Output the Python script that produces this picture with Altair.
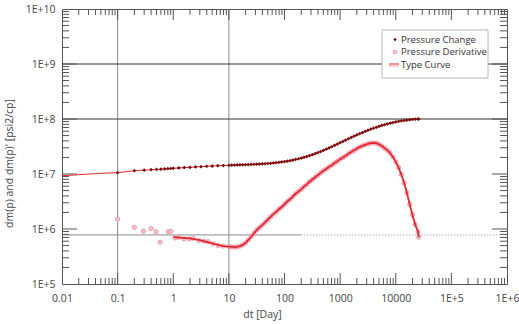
import altair as alt
import pandas as pd

# ---- data -------------------------------------------------------------
# elapsed time, days
PC_T = [0.1, 0.2, 0.3, 0.4, 0.5, 0.6, 0.7, 0.8, 0.9, 1.0, 1.26, 1.58, 2.0, 2.51, 3.16, 3.98, 5.01, 6.31, 7.94,
        10, 11.2, 12.6, 14.1, 15.8, 17.8, 20.0, 22.4, 25.1, 28.2, 31.6, 35.5, 39.8, 44.7, 50.1, 56.2, 63.1, 70.8,
        79.4, 89.1, 100, 112, 126, 141, 158, 178, 200, 224, 251, 282, 316, 355, 398, 447, 501, 562, 631, 708, 794,
        891, 1000, 1122, 1259, 1413, 1585, 1778, 1995, 2239, 2512, 2818, 3162, 3548, 3981, 4467, 5012, 5623, 6310,
        7079, 7943, 8913, 10000, 11220, 12590, 14130, 15850, 17780, 19950, 22390, 25120, 26000]
# pressure change dm(p), millions of psi2/cp
PC_V = [10.57, 11.48, 11.75, 11.97, 12.11, 12.25, 12.36, 12.47, 12.59, 12.71, 12.88, 13.06, 13.24, 13.43, 13.61,
        13.80, 13.96, 14.13, 14.26,
        14.39, 14.45, 14.52, 14.59, 14.66, 14.72, 14.79, 14.86, 14.93, 15.00, 15.07, 15.17, 15.28, 15.38, 15.52,
        15.67, 15.85, 16.07, 16.29, 16.56, 16.83, 17.14, 17.50, 17.91, 18.37, 18.88, 19.45, 20.09, 20.80, 21.58,
        22.44, 23.39, 24.43, 25.59, 26.85, 28.25, 29.79, 31.41, 33.19, 35.08, 37.07, 39.17, 41.40, 43.75, 46.24,
        48.75, 51.40, 54.08, 56.75, 59.57, 62.37, 65.16, 67.92, 70.63, 73.45, 76.21, 78.89, 81.47, 83.95, 86.30,
        88.51, 90.57, 92.47, 94.19, 95.72, 97.05, 98.17, 99.08, 99.77, 100.0]

# pressure derivative dm(p)', millions of psi2/cp
PD_T = [0.1, 0.2, 0.29, 0.4, 0.49, 0.58, 0.81, 0.91, 1.08, 1.27, 1.56, 1.92, 2.27, 2.91, 3.58, 4.23, 5.2, 6.4, 7.9,
        10, 11.2, 12.6, 14.1, 15.8, 17.8, 20.0, 22.4, 25.1, 28.2, 31.6, 35.5, 39.8, 44.7, 50.1, 56.2, 63.1, 70.8,
        79.4, 89.1, 100, 112, 126, 141, 158, 178, 200, 224, 251, 282, 316, 355, 398, 447, 501, 562, 631, 708, 794,
        891, 1000, 1122, 1259, 1413, 1585, 1778, 1995, 2239, 2512, 2818, 3162, 3548, 3981, 4467, 5012, 5623, 6310,
        7079, 7943, 8913, 10000, 11220, 12590, 14130, 15850, 17780, 19950, 22390, 25120, 26000]
PD_V = [1.51, 1.07, 0.912, 1.02, 0.891, 0.575, 0.891, 0.912, 0.686, 0.703, 0.661, 0.661, 0.676, 0.617, 0.603,
        0.589, 0.537, 0.501, 0.490,
        0.479, 0.473, 0.468, 0.473, 0.490, 0.513, 0.562, 0.631, 0.724, 0.832, 0.955, 1.072, 1.175, 1.318, 1.479,
        1.660, 1.862, 2.042, 2.291, 2.512, 2.818, 3.162, 3.467, 3.890, 4.365, 4.786, 5.248, 5.888, 6.457, 7.244,
        7.943, 8.710, 9.550, 10.47, 11.48, 12.30, 13.49, 14.45, 15.85, 16.98, 18.62, 19.95, 21.38, 23.44, 25.12,
        26.92, 28.84, 30.90, 32.36, 33.88, 35.48, 36.31, 36.73, 36.31, 34.67, 32.36, 29.51, 26.92, 23.99, 20.42,
        16.60, 13.18, 9.772, 6.918, 4.571, 2.818, 1.820, 1.202, 0.891, 0.708]

# model (type curve) sections ahead of the measured data
TCP_T_EARLY = [0.01, 0.02, 0.03, 0.05, 0.07]
TCP_V_EARLY = [9.31, 9.70, 9.95, 10.26, 10.47]
TCD_T_EARLY = [1.0, 1.5, 2.0, 3.0, 5.0, 7.9]
TCD_V_EARLY = [0.710, 0.690, 0.676, 0.630, 0.550, 0.490]

N_GRID = 70  # shared time grid from 10 days onward

VERTICAL_MARKERS = [0.1, 10]
HORIZONTAL_MARKERS = [1e8, 1e9]
LOWER_LEVEL = 7.8e5

X_DECADES = [0.01, 0.1, 1, 10, 100, 1000, 10000, 1e5, 1e6]
X_LABELS = ["0.01", "0.1", "1", "10", "100", "1000", "10000", "1E+5", "1E+6"]
Y_DECADES = [1e5, 1e6, 1e7, 1e8, 1e9, 1e10]
Y_LABELS = ["1E+5", "1E+6", "1E+7", "1E+8", "1E+9", "1E+10"]
MINOR_STEPS = [2, 3, 4, 5, 6, 7, 8, 9]

LEGEND_LABELS = ["Pressure Change", "Pressure Derivative", "Type Curve"]

# ---- tables -----------------------------------------------------------
MM = 1e6
pc = pd.DataFrame({"t": PC_T, "v": [v * MM for v in PC_V]})
pdv = pd.DataFrame({"t": PD_T, "v": [v * MM for v in PD_V]})
tc_p = pd.DataFrame({"t": TCP_T_EARLY + PC_T,
                     "v": [v * MM for v in TCP_V_EARLY + PC_V]})
tc_d = pd.DataFrame({"t": TCD_T_EARLY + PD_T[-N_GRID:],
                     "v": [v * MM for v in TCD_V_EARLY + PD_V[-N_GRID:]]})

x_major = pd.DataFrame({"t": X_DECADES[1:-1]})
x_minor = pd.DataFrame({"t": [m * d for d in X_DECADES[:-1] for m in MINOR_STEPS]})
y_major = pd.DataFrame({"v": Y_DECADES[1:-1]})
y_minor = pd.DataFrame({"v": [m * d for d in Y_DECADES[:-1] for m in MINOR_STEPS]})
one = pd.DataFrame({"k": [0]})

# ---- layout -----------------------------------------------------------
W, H = 445, 275
FONT = "Open Sans"
INK = "#444444"
FRAME = "#555555"

XS = alt.Scale(type="log", domain=[0.01, 1e6], nice=False)
YS = alt.Scale(type="log", domain=[1e5, 1e10], nice=False)

x_labels_js = "[" + ",".join("'%s'" % s for s in X_LABELS) + "]"
y_labels_js = "[" + ",".join("'%s'" % s for s in Y_LABELS) + "]"

X_AXIS = alt.Axis(
    values=X_DECADES, labelExpr=f"{x_labels_js}[round(log(datum.value)/LN10)+2]",
    title="dt [Day]", grid=False, domain=False, ticks=False, tickSize=0,
    labelFlush=False, labelOverlap=False, labelPadding=9,
    labelFont=FONT, labelFontSize=10.5, labelColor=INK,
    titleFont=FONT, titleFontSize=10.5, titleFontWeight="normal", titleColor=INK,
    titleX=200, titleY=30, titleBaseline="middle", titleAlign="center",
)
Y_AXIS = alt.Axis(
    values=Y_DECADES, labelExpr=f"{y_labels_js}[round(log(datum.value)/LN10)-5]",
    title="dm(p) and dm(p)' [psi2/cp]", grid=False, domain=False, ticks=False, tickSize=0,
    labelFlush=False, labelOverlap=False, labelPadding=7,
    labelFont=FONT, labelFontSize=10.5, labelColor=INK, labelBaseline="middle",
    titleFont=FONT, titleFontSize=10.5, titleFontWeight="normal", titleColor=INK,
    titleX=-53, titleY=154, titleAngle=270, titleBaseline="middle", titleAlign="center",
)


def X(field="t"):
    return alt.X(f"{field}:Q", scale=XS, axis=X_AXIS)


def Y(field="v"):
    return alt.Y(f"{field}:Q", scale=YS, axis=Y_AXIS)


layers = []

# marker lines
layers.append(alt.Chart(pd.DataFrame({"t": VERTICAL_MARKERS})).mark_rule(color="#8c8c8c", strokeWidth=1)
              .encode(x=X(), y=alt.value(0), y2=alt.value(H)))
layers.append(alt.Chart(pd.DataFrame({"v": HORIZONTAL_MARKERS})).mark_rule(color="#333333", strokeWidth=1)
              .encode(y=Y(), x=alt.value(0), x2=alt.value(W)))
low = pd.DataFrame({"v": [LOWER_LEVEL], "t0": [0.01], "t1": [200], "t2": [1e6]})
layers.append(alt.Chart(low).mark_rule(color="#8c8c8c", strokeWidth=1)
              .encode(y=Y(), x=X("t0"), x2="t1:Q"))
layers.append(alt.Chart(low).mark_rule(color="#8c8c8c", strokeWidth=1, strokeDash=[1, 2])
              .encode(y=Y(), x=X("t1"), x2="t2:Q"))

# inward tick marks on all four sides
for df, ln in ((x_major, 11), (x_minor, 6)):
    layers.append(alt.Chart(df).mark_rule(color=FRAME, strokeWidth=1)
                  .encode(x=X(), y=alt.value(H), y2=alt.value(H - ln)))
    layers.append(alt.Chart(df).mark_rule(color=FRAME, strokeWidth=1)
                  .encode(x=X(), y=alt.value(0), y2=alt.value(ln)))
for df, ln in ((y_major, 15), (y_minor, 7)):
    layers.append(alt.Chart(df).mark_rule(color=FRAME, strokeWidth=1)
                  .encode(y=Y(), x=alt.value(0), x2=alt.value(ln)))
    layers.append(alt.Chart(df).mark_rule(color=FRAME, strokeWidth=1)
                  .encode(y=Y(), x=alt.value(W), x2=alt.value(W - ln)))

# pressure change: type curve under the measured points
layers.append(alt.Chart(tc_p).mark_line(color="#e3262e", strokeWidth=1)
              .encode(x=X(), y=Y(), order="t:Q"))
layers.append(alt.Chart(pc).mark_point(shape="diamond", filled=True, color="#7a0a0c", size=14, opacity=1)
              .encode(x=X(), y=Y()))

# pressure derivative: points with type curve on top
layers.append(alt.Chart(pdv).mark_point(shape="circle", filled=True, fill="#f7c3cd", stroke="#ec8c9e",
                                        strokeWidth=0.8, size=18, opacity=1)
              .encode(x=X(), y=Y()))
layers.append(alt.Chart(tc_d).mark_line(color="#e3262e", strokeWidth=1.8)
              .encode(x=X(), y=Y(), order="t:Q"))

# legend box
LX, LY = 320, 21
layers.append(alt.Chart(one).mark_rect(fill="white", stroke="#b8b8b8", strokeWidth=1)
              .encode(x=alt.value(LX), x2=alt.value(LX + 106), y=alt.value(LY), y2=alt.value(LY + 48)))
layers.append(alt.Chart(one).mark_point(shape="diamond", filled=True, color="#7a0a0c", size=11, opacity=1)
              .encode(x=alt.value(LX + 13), y=alt.value(LY + 9.5)))
layers.append(alt.Chart(one).mark_point(shape="circle", filled=True, fill="#f7c3cd", stroke="#ec8c9e",
                                        strokeWidth=0.8, size=14, opacity=1)
              .encode(x=alt.value(LX + 13), y=alt.value(LY + 22)))
layers.append(alt.Chart(one).mark_rule(color="#e3262e", strokeWidth=1)
              .encode(x=alt.value(LX + 7), x2=alt.value(LX + 17), y=alt.value(LY + 34)))
layers.append(alt.Chart(one).mark_rule(color="#f3a0ad", strokeWidth=1)
              .encode(x=alt.value(LX + 7), x2=alt.value(LX + 17), y=alt.value(LY + 36)))
for i, lab in enumerate(LEGEND_LABELS):
    layers.append(alt.Chart(pd.DataFrame({"label": [lab]}))
                  .mark_text(font=FONT, fontSize=9.5, color="#333333", align="left", baseline="middle")
                  .encode(text="label:N", x=alt.value(LX + 19), y=alt.value(LY + 9.5 + 12.5 * i)))

chart = (
    alt.layer(*layers)
    .properties(width=W, height=H, background="white",
                autosize=alt.AutoSizeParams(type="none"),
                padding={"left": 62, "top": 9, "right": 12, "bottom": 40})
    .configure_view(stroke=FRAME, strokeWidth=1)
)

chart.save("out.html", embed_options={"renderer": "svg", "actions": False})
